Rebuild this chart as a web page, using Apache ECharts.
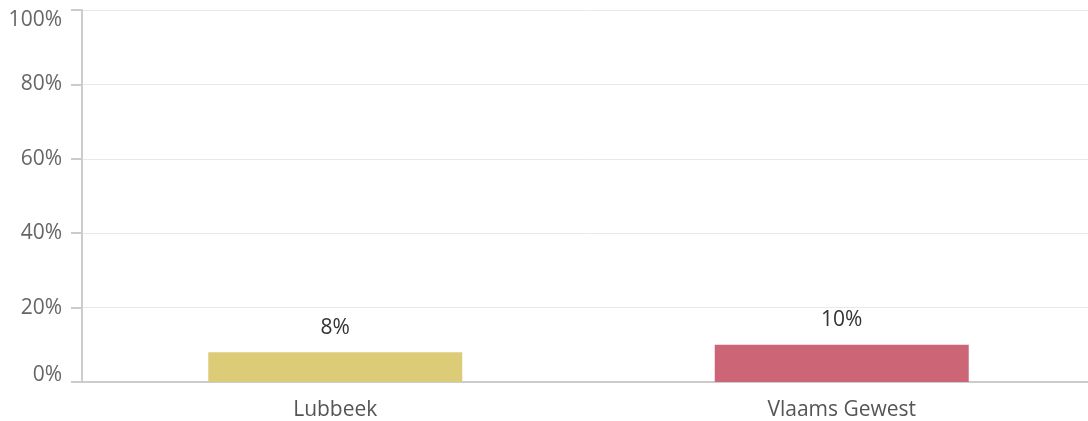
<!DOCTYPE html>
<html>
<head>
<meta charset="utf-8">
<script src="https://cdn.jsdelivr.net/npm/echarts@6/dist/echarts.min.js"></script>
<style>
html,body{margin:0;padding:0;background:#fff;overflow:hidden;width:1088px;height:421px;}
#chart{width:1096px;height:421px;}
</style>
</head>
<body>
<div id="chart"></div>
<script>
const categories = ["Lubbeek", "Vlaams Gewest"];
const values = [8, 10];
const barColors = ["#DDCC77", "#CC6677"];
const yTicks = [0, 20, 40, 60, 80, 100];

const chart = echarts.init(document.getElementById('chart'), null, {renderer: 'canvas'});
chart.setOption({
  animation: false,
  textStyle: {fontFamily: "Open Sans"},
  grid: {left: 82, top: 10, width: 1013, height: 372, containLabel: false},
  xAxis: {
    type: 'category',
    data: categories,
    axisLine: {lineStyle: {color: '#cccccc', width: 2}},
    axisTick: {show: false},
    axisLabel: {color: '#555555', fontSize: 21, margin: 18, fontFamily: "Open Sans"}
  },
  yAxis: {
    type: 'value',
    min: yTicks[0],
    max: yTicks[yTicks.length - 1],
    interval: 20,
    axisLine: {show: true, lineStyle: {color: '#cccccc', width: 2}},
    axisTick: {show: true, length: 11, lineStyle: {color: '#cccccc', width: 2}},
    splitLine: {lineStyle: {color: '#e8e8e8', width: 1}},
    axisLabel: {
      color: '#666666', fontSize: 21, margin: 20, fontFamily: "Open Sans",
      formatter: v => v === yTicks[yTicks.length - 1] ? '{top|' + v + '%}' : (v === yTicks[0] ? '{bot|' + v + '%}' : v + '%'),
      rich: {
        top: {color: '#666666', fontSize: 21, fontFamily: "Open Sans", padding: [20, 0, 0, 0]},
        bot: {color: '#666666', fontSize: 21, fontFamily: "Open Sans", padding: [0, 0, 14, 0]}
      }
    }
  },
  series: [{
    type: 'bar',
    barWidth: 254,
    data: values.map((v, i) => ({value: v, itemStyle: {color: barColors[i]}})),
    label: {show: true, position: 'top', distance: 14, color: '#333333', fontSize: 21, formatter: p => p.value + '%', fontFamily: "Open Sans"}
  }]
});
</script>
</body>
</html>
